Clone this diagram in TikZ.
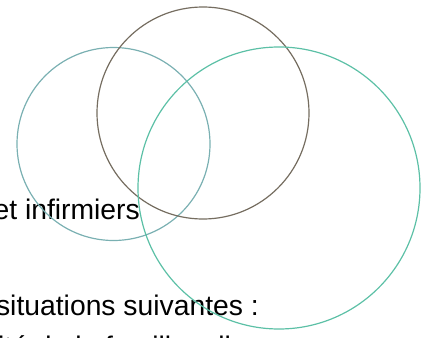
\documentclass[tikz,border=0pt]{standalone}
\usepackage{fontspec}
\setmainfont{Liberation Sans}
\definecolor{leftc}{HTML}{7AB0B2}
\definecolor{midc}{HTML}{756D60}
\definecolor{rightc}{HTML}{5CC0A6}
\tikzset{
  ring/.style={line width=1.2pt},
  bodytext/.style={inner sep=0pt, font=\fontsize{28.3}{33}\selectfont, text=black}
}
\begin{document}
\begin{tikzpicture}[x=1pt,y=-1pt]
\useasboundingbox (0,0) rectangle (425,337);
\clip (0,0) rectangle (425,337);
\node[bodytext, anchor=base east] (l1) at (140,219) {et infirmiers};
\node[bodytext, anchor=base east] (l2) at (259,315) {situations suivantes :};
\node[bodytext, anchor=base west] (l3) at (-2,356) {ité de la famille, elle};
\draw[ring, draw=leftc] (113.5,144) circle[radius=96.5] node (cl) {};
\draw[ring, draw=midc] (203,113) circle[radius=106] node (cm) {};
\draw[ring, draw=rightc] (279,188) circle[radius=141] node (cr) {};
\end{tikzpicture}
\end{document}
